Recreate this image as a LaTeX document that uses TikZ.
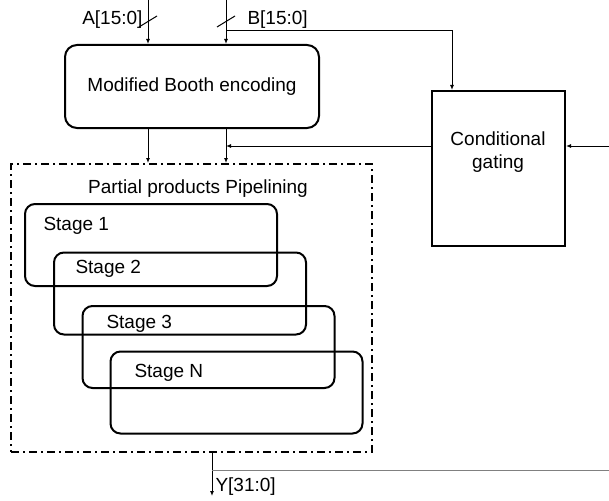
\documentclass[tikz,border=0pt]{standalone}
\usepackage{fontspec}
\setmainfont{Liberation Sans}
\usepackage{tikz}
\usetikzlibrary{arrows.meta}
\usetikzlibrary{positioning}
\tikzset{blk/.style={draw=black, rectangle, line width=2pt, inner sep=0pt},
	stg/.style={draw=black, rectangle, rounded corners=10pt, line width=2pt, minimum width=252pt, minimum height=82pt},
	lbl/.style={inner sep=0pt, font=\fontsize{19}{23}\selectfont},
	conn/.style={line width=1pt, -{Latex[length=5pt,width=4pt]}}}

\begin{document}
\begin{tikzpicture}[x=1pt, y=-1pt, line width=1pt]
		\useasboundingbox (0,0) rectangle (609,500);
		% blocks
		\node[blk, rounded corners=12pt, minimum width=254pt, minimum height=83pt, lbl] (booth) at (192,86.5) {Modified Booth encoding};
		\node[blk, minimum width=133pt, minimum height=155pt] (gating) at (498.5,168.5) {};
		\node[lbl, align=center] (gatetxt) at (498,152) {Conditional\\gating};
		\node[blk, dash pattern=on 8pt off 4pt on 2pt off 4pt, minimum width=361pt, minimum height=288pt] (pipe) at (191.5,308) {};
		\node[lbl] (pipetxt) at (198,189) {Partial products Pipelining};
		
		% stages
		\node[stg] (s1) at (151,245) {};
		\node[stg] (s2) at (180,293.5) {};
		\node[stg] (s3) at (208.5,347) {};
		\node[stg] (sN) at (236.5,392.5) {};
		\node[lbl, anchor=west] (t1) at (43,226) {Stage 1};
		\node[lbl, anchor=west] (t2) at (75,269) {Stage 2};
		\node[lbl, anchor=west] (t3) at (106,324) {Stage 3};
		\node[lbl, anchor=west] (tN) at (134,373) {Stage N};
		
		% inputs and outputs
		\coordinate (ain) at (148,0);
		\coordinate (bin) at (226,0);
		\coordinate (bsplit) at (226,31);
		\coordinate (cin) at (609,146);
		\coordinate (ybr) at (212,470);
		\coordinate (yout) at (212,496);
		\node[lbl, anchor=east] (alab) at (143,20) {A[15:0]};
		\node[lbl, anchor=west] (blab) at (247,20) {B[15:0]};
		\node[lbl, anchor=west] (ylab) at (215,487) {Y[31:0]};
		
		\draw[conn] (ain) -- (ain |- booth.north);
		\draw[conn] (bin) -- (bin |- booth.north);
		\draw (ain) ++(0,21.5) ++(-9,5.5) -- ++(18,-11);
		\draw (bin) ++(0,21.5) ++(-9,5.5) -- ++(18,-11);
		\draw[conn] (bsplit) -| ([xshift=21pt]gating.north west);
		\draw[conn] (ain |- booth.south) -- (ain |- pipe.north);
		\draw[conn] (bin |- booth.south) -- (bin |- pipe.north);
		\draw[conn] (cin) -- (cin -| gating.east);
		\draw[conn] (cin -| gating.west) -- (cin -| bin);
		\draw[conn] (yout |- pipe.south) -- (yout);
		\draw[gray] (ybr) -- (ybr -| cin);
	\end{tikzpicture}
\end{document}
